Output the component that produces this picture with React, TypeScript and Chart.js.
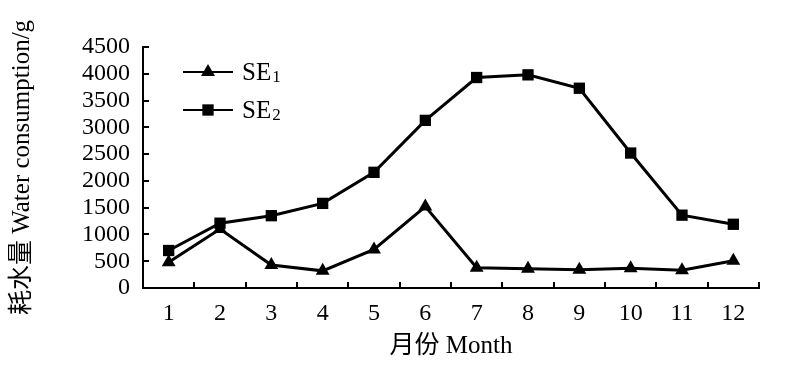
import React, { useEffect, useRef } from "react";
import { Chart, registerables } from "chart.js";

Chart.register(...registerables);

const months = ["1", "2", "3", "4", "5", "6", "7", "8", "9", "10", "11", "12"];
const se1Values = [480, 1100, 430, 320, 720, 1520, 380, 360, 340, 370, 330, 510];
const se2Values = [700, 1210, 1350, 1580, 2160, 3130, 3930, 3980, 3730, 2520, 1360, 1190];
const seriesBase = ["SE", "SE"];
const seriesSub = ["1", "2"];
const seriesLabels = ["SE₁", "SE₂"];
const pointStyles = ["triangle", "rect"];
const yMin = 0;
const yMax = 4500;
const yStep = 500;
const xTitle = "月份 Month";
const yTitle = "耗水量 Water consumption/g";

const FONT = "'Liberation Serif', 'Times New Roman', 'Noto Sans CJK SC', serif";

function drawMarker(ctx: CanvasRenderingContext2D, style: string, x: number, y: number, r: number) {
  ctx.beginPath();
  if (style === "triangle") {
    ctx.moveTo(x, y - r);
    ctx.lineTo(x + r * Math.cos(Math.PI / 6), y + r * Math.sin(Math.PI / 6));
    ctx.lineTo(x - r * Math.cos(Math.PI / 6), y + r * Math.sin(Math.PI / 6));
    ctx.closePath();
    ctx.fill();
  } else {
    const s = r * Math.SQRT1_2;
    ctx.fillRect(x - s, y - s, 2 * s, 2 * s);
  }
}

const legendPlugin = {
  id: "insideLegend",
  afterDatasetsDraw(chart: any) {
    const ctx = chart.ctx;
    const rows = [72, 110];
    chart.data.datasets.forEach((_ds: any, i: number) => {
      const y = rows[i];
      ctx.save();
      ctx.strokeStyle = "#000";
      ctx.lineWidth = 2;
      ctx.beginPath();
      ctx.moveTo(183, y);
      ctx.lineTo(233, y);
      ctx.stroke();
      ctx.fillStyle = "#000";
      drawMarker(ctx, pointStyles[i], 208, y, 8);
      ctx.textBaseline = "middle";
      ctx.textAlign = "left";
      ctx.font = `25px ${FONT}`;
      ctx.fillText(seriesBase[i], 242, y + 1);
      const w = ctx.measureText(seriesBase[i]).width;
      ctx.font = `17px ${FONT}`;
      ctx.fillText(seriesSub[i], 242 + w + 1, y + 6);
      ctx.restore();
    });
  },
};

export default function App() {
  const ref = useRef<HTMLCanvasElement | null>(null);
  useEffect(() => {
    if (!ref.current) return;
    const chart = new Chart(ref.current, {
      type: "line",
      data: {
        labels: months,
        datasets: [se1Values, se2Values].map((vals, i) => ({
          label: seriesLabels[i],
          data: vals,
          borderColor: "#000",
          backgroundColor: "#000",
          borderWidth: 3,
          pointStyle: pointStyles[i] as any,
          pointRadius: 8,
          pointBackgroundColor: "#000",
          pointBorderColor: "#000",
          pointBorderWidth: 0,
          tension: 0,
          fill: false,
        })),
      },
      options: {
        animation: false,
        responsive: false,
        maintainAspectRatio: false,
        layout: { padding: { left: 0, right: 41, top: 47, bottom: 0 } },
        plugins: {
          legend: { display: false },
          tooltip: { enabled: false },
        },
        scales: {
          x: {
            type: "category",
            offset: true,
            afterFit: (s: any) => {
              s.height = 89;
            },
            grid: {
              offset: true,
              drawOnChartArea: false,
              drawTicks: true,
              tickLength: -6,
              color: "#000",
              lineWidth: 2,
            },
            border: { display: true, color: "#000", width: 2 },
            ticks: {
              color: "#000",
              font: { family: FONT, size: 24 },
              padding: 17,
              maxRotation: 0,
              autoSkip: false,
            },
            title: {
              display: true,
              text: xTitle,
              color: "#000",
              font: { family: FONT, size: 25 },
              padding: { top: 0, bottom: 16 },
            },
          },
          y: {
            min: yMin,
            max: yMax,
            afterFit: (s: any) => {
              s.width = 143;
            },
            grid: {
              drawOnChartArea: false,
              drawTicks: true,
              tickLength: -6,
              color: "#000",
              lineWidth: 2,
            },
            border: { display: true, color: "#000", width: 2 },
            ticks: {
              stepSize: yStep,
              autoSkip: false,
              color: "#000",
              font: { family: FONT, size: 24 },
              padding: 19,
              callback: (v: any) => String(v),
            },
            title: {
              display: true,
              text: yTitle,
              color: "#000",
              font: { family: FONT, size: 25 },
              padding: { top: 7, bottom: 0 },
            },
          },
        },
      },
      plugins: [legendPlugin],
    });
    return () => chart.destroy();
  }, []);
  return (
    <div style={{ position: "fixed", left: 0, top: 0, width: 800, height: 377, background: "#fff" }}>
      <canvas ref={ref} width={800} height={377} />
    </div>
  );
}
